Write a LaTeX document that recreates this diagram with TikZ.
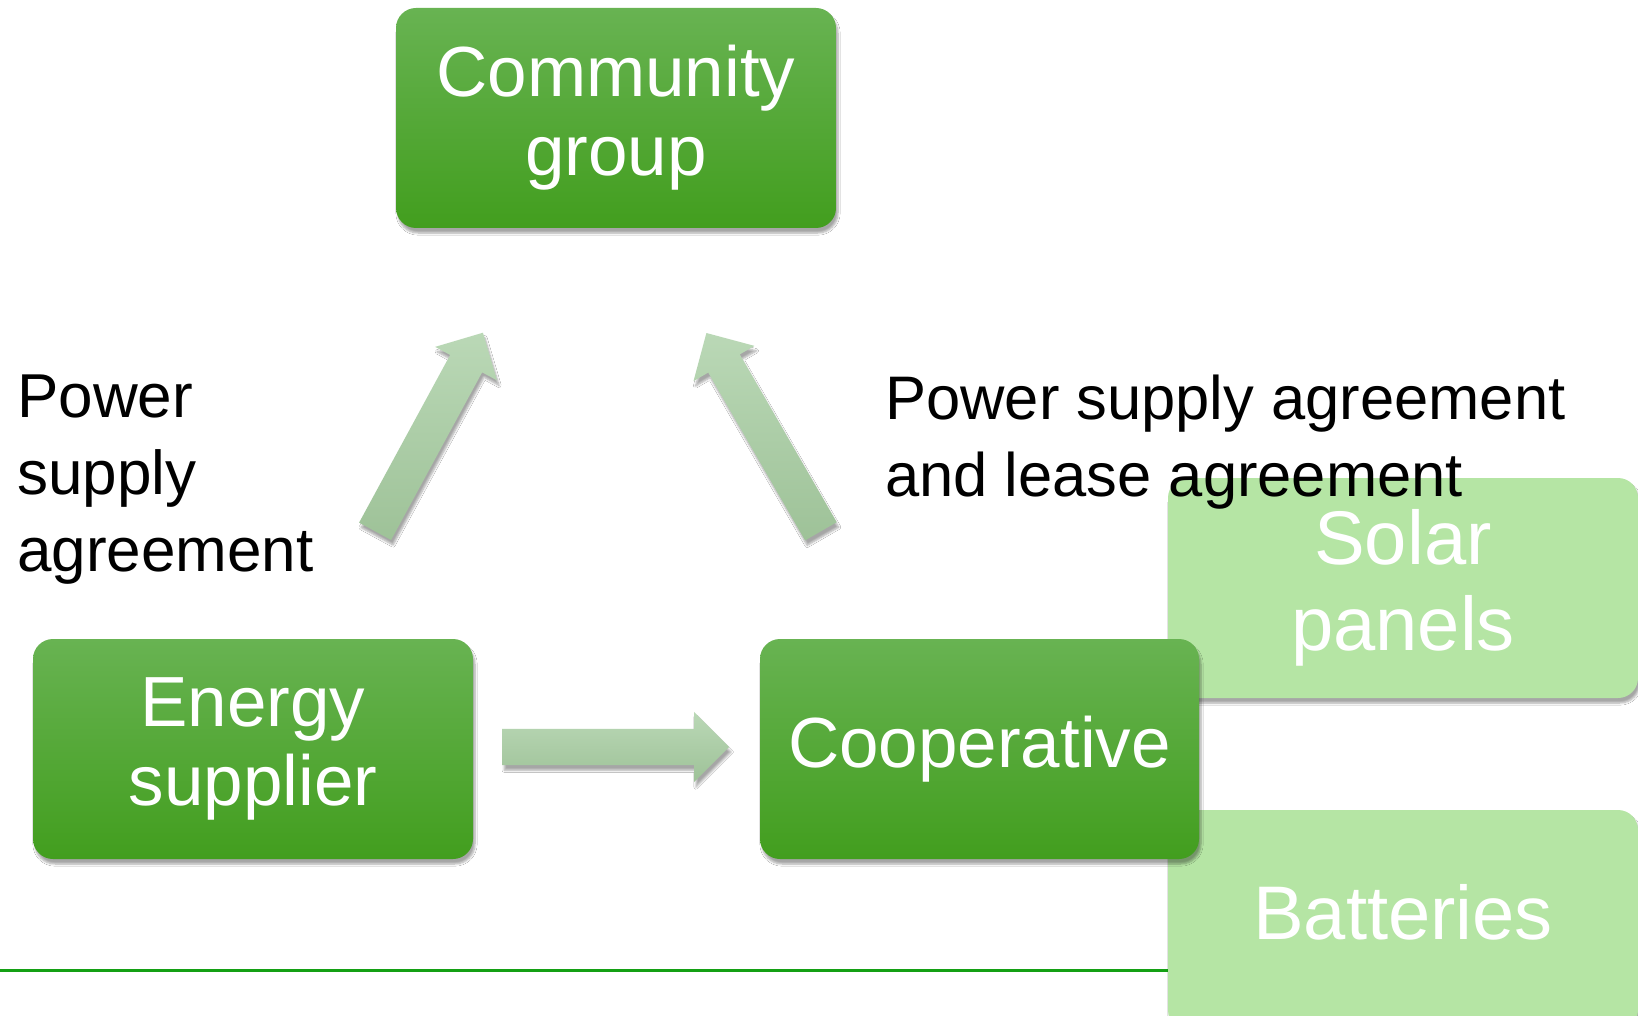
\documentclass[tikz,border=0pt]{standalone}
\usepackage{fontspec}
\setmainfont{Liberation Sans}
\usetikzlibrary{shapes.arrows,shadows.blur}
\definecolor{gtop}{RGB}{104,179,82}
\definecolor{gbot}{RGB}{66,158,30}
\definecolor{lgreen}{RGB}{181,229,164}
\definecolor{atop}{RGB}{186,216,182}
\definecolor{abot}{RGB}{158,194,152}
\definecolor{rulegreen}{RGB}{20,160,20}
\begin{document}
\begin{tikzpicture}[x=1pt,y=-1pt,
  myshadow/.style={blur shadow={shadow xshift=2pt, shadow yshift=-5pt, shadow opacity=35, shadow blur steps=6}},
  darkbox/.style={rectangle, rounded corners=20pt, top color=gtop, bottom color=gbot, draw=none,
    text=white, align=center, inner sep=0pt, minimum width=440pt, minimum height=220pt,
    font=\fontsize{71}{79}\selectfont, myshadow},
  lightbox/.style={rectangle, rounded corners=20pt, fill=lgreen, draw=none,
    text=white, align=center, inner sep=0pt, minimum width=470pt, minimum height=220pt,
    font=\fontsize{76}{86}\selectfont, myshadow},
  labeltext/.style={anchor=north west, align=left, inner sep=0pt, text=black,
    font=\fontsize{62}{77}\selectfont},
  blockarrow/.style={single arrow, single arrow head extend=17pt, inner xsep=0pt, inner ysep=18pt,
    minimum height=226pt, top color=atop, bottom color=abot, draw=none, anchor=tail, myshadow}
]
\useasboundingbox (0,0) rectangle (1638,1016);
\fill[white] (0,0) rectangle (1638,1016);

% rule line
\coordinate (r1) at (0,970);
\coordinate (r2) at (1168,970);
\draw[rulegreen, line width=3pt] (r1) -- (r2);

% light boxes
\node[lightbox] (solar) at (1403,588) {Solar\\panels};
\node[lightbox, text depth=16pt] (batt) at (1403,920) {Batteries};

% labels
\node[labeltext] (lab1) at (17,375) {Power\\supply\\agreement};
\node[labeltext, font=\fontsize{61.5}{77}\selectfont] (lab2) at (885,375) {Power supply agreement\\and lease agreement};

% dark boxes
\node[darkbox] (comm) at (616,118) {Community\\group};
\node[darkbox] (energy) at (253,749) {Energy\\supplier};
\node[darkbox, minimum width=439pt] (coop) at (979.5,749) {Cooperative};

% block arrows
\node[blockarrow, minimum height=227pt] (arrH) at (502,747) {};
\node[blockarrow, rotate=61.5] (arrL) at (375,531.5) {};
\node[blockarrow, minimum height=229pt, rotate=120] (arrR) at (821,531.5) {};
\end{tikzpicture}
\end{document}
